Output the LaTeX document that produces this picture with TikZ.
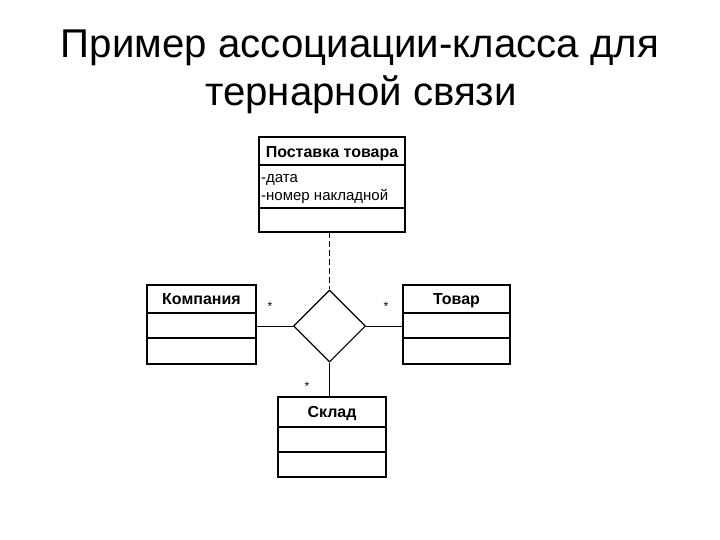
\documentclass[tikz,border=0pt]{standalone}
\usepackage{fontspec}
\setmainfont{Liberation Sans}
\usetikzlibrary{shapes.geometric}
\begin{document}
\begin{tikzpicture}[x=1pt,y=-1pt,
  box/.style={draw,line width=1.1pt},
  sep/.style={line width=1.1pt},
  conn/.style={line width=0.9pt},
  hdr/.style={font=\fontsize{16}{18}\selectfont\bfseries,anchor=base,inner sep=0pt},
  attr/.style={font=\fontsize{15}{17}\selectfont,anchor=base west,inner sep=0pt},
  mult/.style={font=\fontsize{12}{12}\selectfont,inner sep=0pt},
  ttl/.style={font=\fontsize{40.2}{48}\selectfont,anchor=base,inner sep=0pt}]
\useasboundingbox (0,0) rectangle (720,540);
% title
\node[ttl] (t1) at (360,58) {Пример ассоциации-класса для};
\node[ttl] (t2) at (361,106) {тернарной связи};
% association class
\draw[box] (259,137) rectangle (405,232);
\coordinate (pt) at (329.5,232);
\draw[sep] (259,165) -- (405,165);
\draw[sep] (259,208) -- (405,208);
\node[hdr] (phdr) at (332,157.5) {Поставка товара};
\node[attr] (a1) at (261,183) {-дата};
\node[attr] (a2) at (261,201) {-номер накладной};
% Company
\draw[box] (147,285) rectangle (256,364);
\coordinate (kr) at (256,326);
\draw[sep] (147,313) -- (256,313);
\draw[sep] (147,338) -- (256,338);
\node[hdr] (khdr) at (201.5,304) {Компания};
% Product
\draw[box] (403,285) rectangle (510,364);
\coordinate (tl) at (403,326);
\draw[sep] (403,313) -- (510,313);
\draw[sep] (403,338) -- (510,338);
\node[hdr] (thdr) at (456.5,304) {Товар};
% Warehouse
\draw[box] (278,397) rectangle (386,477);
\coordinate (st) at (329.5,397);
\draw[sep] (278,427) -- (386,427);
\draw[sep] (278,452) -- (386,452);
\node[hdr] (shdr) at (332,417.5) {Склад};
% diamond
\node[diamond,draw,line width=1.1pt,minimum width=72pt,minimum height=72pt,inner sep=0pt,aspect=1] (d) at (329.5,326) {};
% connectors
\draw[conn] (kr) -- (d.west);
\draw[conn] (d.east) -- (tl);
\draw[conn] (d.south) -- (st);
\draw[conn,dash pattern=on 6pt off 3pt] (pt) -- (d.north);
% multiplicities
\node[mult] (m1) at (270,306) {*};
\node[mult] (m2) at (386,306) {*};
\node[mult] (m3) at (307,386) {*};
\end{tikzpicture}
\end{document}
